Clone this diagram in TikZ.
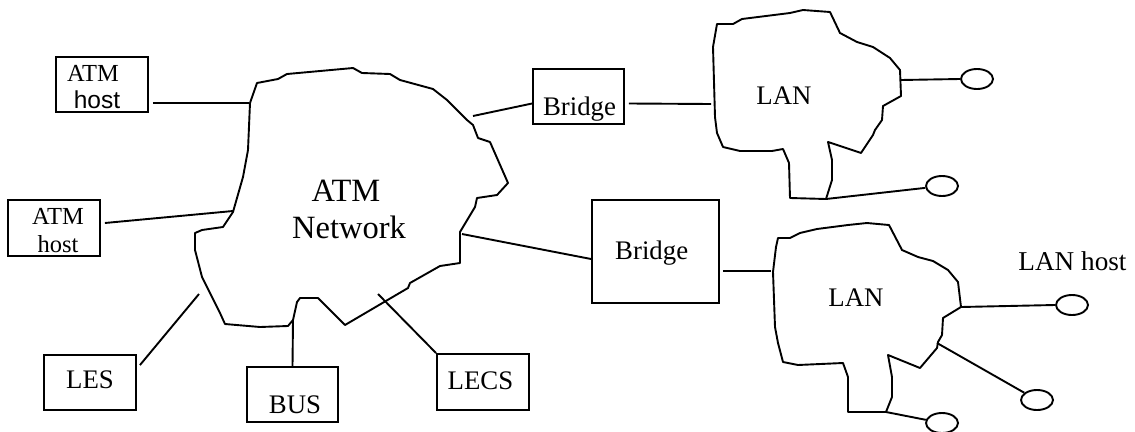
\documentclass[tikz,border=0pt]{standalone}
\usepackage{fontspec}
\setmainfont{Liberation Serif}
\newfontfamily\arialfont{Liberation Sans}
\usetikzlibrary{shapes.geometric}

\tikzset{
  wire/.style={line width=1.9pt, line join=round},
  cloudline/.style={line width=1.9pt, line join=round},
  unitbox/.style={draw, line width=1.9pt, inner sep=0pt},
  lanhost/.style={draw, ellipse, line width=1.9pt, inner sep=0pt,
                  minimum width=32pt, minimum height=20pt},
  lbl/.style={anchor=base, inner sep=0pt, font=\fontsize{26.8}{32}\selectfont},
  smalllbl/.style={anchor=base, inner sep=0pt, font=\fontsize{24.5}{29}\selectfont},
  biglbl/.style={anchor=base, inner sep=0pt, font=\fontsize{32.5}{39}\selectfont},
}

\begin{document}
\begin{tikzpicture}[x=1pt, y=-1pt]
\useasboundingbox (0,0) rectangle (1135,431);

% ---------- ATM network cloud ----------
\draw[cloudline] (257,83) -- (278,79) -- (287,74) -- (320,71) -- (353,68)
  -- (362,73) -- (390,74) -- (400,80) -- (433,89) -- (447,100) -- (467,120)
  -- (473,125) -- (478,138) -- (490,142) -- (508,183) -- (497,195)
  -- (477,198) -- (475,207) -- (460,232) -- (460,263) -- (440,266)
  -- (410,283) -- (408,288) -- (345,325) -- (318,298) -- (300,298)
  -- (297,302) -- (293,320) -- (288,326) -- (260,327) -- (225,324)
  -- (220,313) -- (202,277) -- (195,250) -- (195,233) -- (202,230)
  -- (223,227) -- (233,212) -- (243,177) -- (248,150) -- (250,103) -- cycle;

\coordinate (atmH1) at (249,103);
\coordinate (atmH2) at (233,211);
\coordinate (atmB1) at (473,116);
\coordinate (atmB2) at (462,234);
\coordinate (atmLes) at (199,294);
\coordinate (atmBus) at (293,320);
\coordinate (atmLecs) at (378,294);

\node[biglbl] (atmA) at (346,201) {ATM};
\node[biglbl] (atmN) at (349,238) {Network};

% ---------- first LAN cloud ----------
\draw[cloudline] (717,24) -- (733,24) -- (742,19) -- (790,13) -- (803,10)
  -- (830,12) -- (840,33) -- (857,42) -- (873,47) -- (890,58) -- (900,70)
  -- (901,96) -- (883,106) -- (882,120) -- (875,130) -- (873,135)
  -- (861,153) -- (828,142) -- (832,160) -- (832,180) -- (826,199)
  -- (790,198) -- (789,163) -- (783,149) -- (772,151) -- (740,151)
  -- (723,147) -- (717,133) -- (715,117) -- (713,47) -- cycle;

\coordinate (lanAw) at (711,104);
\coordinate (lanAh1) at (901,80);
\coordinate (lanAh2) at (826,199);
\node[lbl] (lanAtxt) at (784,104) {LAN};

% ---------- second LAN cloud ----------
\draw[cloudline] (778,238) -- (790,238) -- (800,233) -- (817,229) -- (848,225)
  -- (867,223) -- (889,225) -- (902,250) -- (918,257) -- (933,261)
  -- (948,270) -- (958,282) -- (961,307) -- (943,318) -- (942,335)
  -- (938,342) -- (937,348) -- (920,368) -- (888,355) -- (892,377)
  -- (892,397) -- (886,412) -- (848,412) -- (848,377) -- (843,363)
  -- (798,365) -- (783,362) -- (778,343) -- (775,327) -- (773,272)
  -- (776,247) -- cycle;

\coordinate (lanBw) at (771,271);
\coordinate (lanBh1) at (961,307);
\coordinate (lanBh2) at (937,343);
\coordinate (lanBh3) at (886,412);
\node[lbl] (lanBtxt) at (856,306) {LAN};

% ---------- boxes ----------
\node[unitbox, minimum width=92pt, minimum height=55pt] (host1) at (102,84.5) {};
\node[smalllbl] (host1a) at (93,81.5) {ATM};
\node[smalllbl, font=\fontsize{24.5}{29}\arialfont] (host1b) at (97,108) {host};

\node[unitbox, minimum width=92pt, minimum height=56pt] (host2) at (54,228) {};
\node[smalllbl] (host2a) at (58,224) {ATM};
\node[smalllbl] (host2b) at (58,252) {host};

\node[unitbox, minimum width=92pt, minimum height=55pt] (les) at (90,382.5) {};
\node[lbl] (lestxt) at (90,388) {LES};

\node[unitbox, minimum width=91pt, minimum height=55pt] (bus) at (292.5,394.5) {};
\node[lbl] (bustxt) at (295,413) {BUS};

\node[unitbox, minimum width=92pt, minimum height=56pt] (lecs) at (483,382) {};
\node[lbl] (lecstxt) at (480.5,389) {LECS};

\node[unitbox, minimum width=91pt, minimum height=55pt] (br1) at (578.5,96.5) {};
\node[lbl] (br1txt) at (579.5,115) {Bridge};

\node[unitbox, minimum width=127pt, minimum height=103pt] (br2) at (655.5,251.5) {};
\node[lbl] (br2txt) at (651.7,259) {Bridge};

% ---------- LAN hosts ----------
\node[lanhost] (hA1) at (977,79) {};
\node[lanhost] (hA2) at (942,186) {};
\node[lanhost] (hB1) at (1072,305) {};
\node[lanhost] (hB2) at (1037,400) {};
\node[lanhost] (hB3) at (942,423) {};
\node[lbl, font=\fontsize{27.2}{32}\selectfont] (lanhosttxt) at (1072.5,270) {LAN host};

% ---------- connectors ----------
\draw[wire] ([xshift=4pt]host1.east |- atmH1) -- (atmH1);
\draw[wire] ([xshift=4pt,yshift=5pt]host2.east) -- (atmH2);
\draw[wire] ([xshift=3pt,yshift=-11pt]les.north east) -- (atmLes);
\draw[wire] (bus.north) -- (atmBus);
\draw[wire] (lecs.north west) -- (atmLecs);
\draw[wire] (atmB1) -- ([yshift=-7pt]br1.west);
\draw[wire] ([xshift=4pt,yshift=-7pt]br1.east) -- (lanAw);
\draw[wire] (atmB2) -- ([yshift=-7.5pt]br2.west);
\draw[wire] ([xshift=3pt,yshift=-19.5pt]br2.east) -- (lanBw);

\draw[wire] (lanAh1) -- (hA1.west);
\draw[wire] (lanAh2) -- (hA2);
\draw[wire] (lanBh1) -- (hB1.west);
\draw[wire] (lanBh2) -- (hB2);
\draw[wire] (lanBh3) -- (hB3);
\end{tikzpicture}
\end{document}
